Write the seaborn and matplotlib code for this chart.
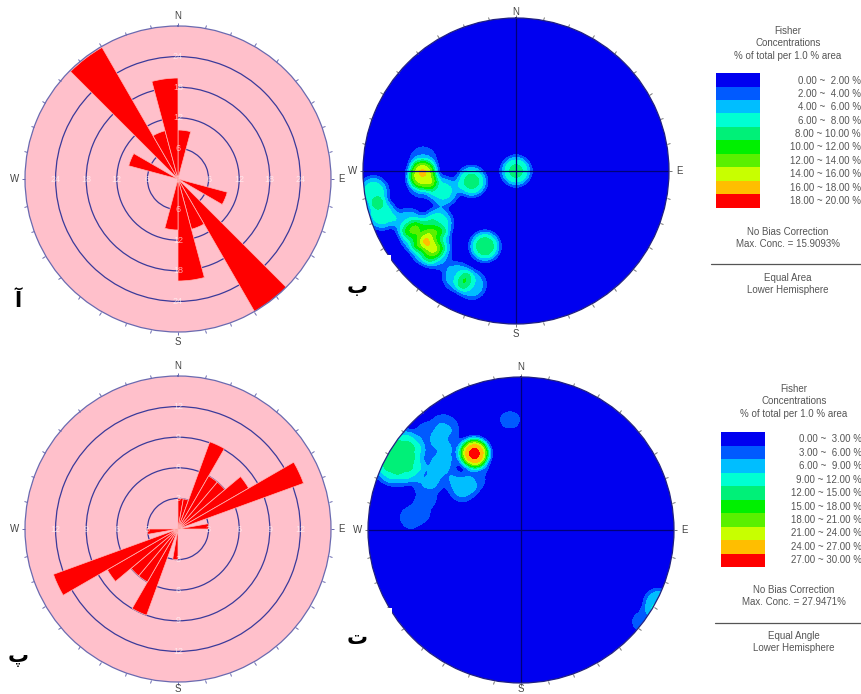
import numpy as np
import matplotlib
matplotlib.use("Agg")
import matplotlib.pyplot as plt
from matplotlib.colors import ListedColormap, BoundaryNorm
from matplotlib.patches import Circle, Rectangle
import seaborn as sns

W, H = 862, 694

# rose diagrams: bin start azimuth (deg) and value
rose_top_bins = [315, 330, 345, 0, 285, 105, 135, 150, 165, 180]
rose_top_vals = [29.8, 9.8, 19.8, 9.6, 10, 10, 30, 10.2, 20, 10]
rose_top_rings = [6, 12, 18, 24]

rose_bot_bins = [60, 20, 30, 40, 50, 0, 10, 80, 260, 240, 230, 220, 210, 200, 180]
rose_bot_vals = [13.1, 9.1, 6, 6, 8, 3, 3, 3, 3, 13, 8, 6, 6, 9, 3]
rose_bot_rings = [3, 6, 9, 12]

# stereonet poles: east, north (unit circle) and weight
net_top_x = [0, -0.61, -0.606, -0.617, -0.475, -0.29, -0.932, -0.878, -0.904,
             -0.66, -0.588, -0.704, -0.508, -0.519, -0.519, -0.203, -0.383, -0.29, -0.6]
net_top_y = [0, -0.024, 0.074, -0.089, -0.133, -0.068, -0.133, -0.285, -0.209,
             -0.427, -0.514, -0.34, -0.34, -0.46, -0.547, -0.492, -0.692, -0.743, -0.38]
net_top_w = [8.3, 12, 3.5, 3.5, 6.5, 8.5, 7, 7, 0.5,
             6.5, 6.5, 5.5, 7, 5, 4.5, 9, 5.5, 5.5, 2]

net_bot_x = [-0.305,
             -0.703, -0.913, -0.808, -0.808, -0.734, -0.882, -0.734, -0.882,
             -0.486, -0.519, -0.508,
             -0.475, -0.573, -0.649, -0.627, -0.612, -0.529, -0.257,
             -0.381, -0.072, -0.072,
             -0.693, -0.758, -0.627,
             0.898, 0.789]
net_bot_y = [0.501,
             0.475, 0.475, 0.58, 0.37, 0.549, 0.549, 0.401, 0.401,
             0.599, 0.501, 0.414,
             0.708, 0.654, 0.61, 0.338, 0.251, 0.353, 0.338,
             0.278, 0.769, 0.671,
             0.098, 0.055, 0.135,
             -0.479, -0.599]
net_bot_w = [27.4,
             5.4, 5.4, 5.4, 5.4, 5.4, 5.4, 5.4, 5.4,
             3.6, 4, 3.8,
             3, 2.8, 2.4, 3, 3.2, 2.2, 3,
             7, 2.3, 2.3,
             2.4, 2.2, 2.2,
             9, 3.5]

level_colors = ['#0000f0', '#005aff', '#00beff', '#00ffd2', '#00f078',
                '#00f000', '#5af000', '#c8ff00', '#ffbe00', '#ff0000']

legend_top = ['0.00 ~  2.00 %', '2.00 ~  4.00 %', '4.00 ~  6.00 %', '6.00 ~  8.00 %', '8.00 ~ 10.00 %',
              '10.00 ~ 12.00 %', '12.00 ~ 14.00 %', '14.00 ~ 16.00 %', '16.00 ~ 18.00 %', '18.00 ~ 20.00 %']
legend_bot = ['0.00 ~  3.00 %', '3.00 ~  6.00 %', '6.00 ~  9.00 %', '9.00 ~ 12.00 %', '12.00 ~ 15.00 %',
              '15.00 ~ 18.00 %', '18.00 ~ 21.00 %', '21.00 ~ 24.00 %', '24.00 ~ 27.00 %', '27.00 ~ 30.00 %']

sns.set_style("white")
plt.rcParams['font.family'] = ['Liberation Sans', 'DejaVu Sans']

fig = plt.figure(figsize=(W / 100, H / 100), dpi=100)
cmap = ListedColormap(level_colors)


def px_axes(x0, y0, x1, y1, **kw):
    return fig.add_axes([x0 / W, 1 - y1 / H, (x1 - x0) / W, (y1 - y0) / H], **kw)


def px_text(x, y, s, **kw):
    kw.setdefault('fontsize', 7)
    kw.setdefault('color', '#555555')
    kw.setdefault('ha', 'center')
    kw.setdefault('va', 'center')
    fig.text(x / W, 1 - y / H, s, **kw)


def polar_frame(ax, rmax, color, n_r=1.068, s_r=1.068):
    ax.set_theta_zero_location('N')
    ax.set_theta_direction(-1)
    ax.set_ylim(0, rmax)
    ax.set_xticks(np.radians(np.arange(0, 360, 10)))
    ax.set_xticklabels([])
    ax.tick_params(axis='x', bottom=False, top=True, direction='out', length=2.5, width=0.7, color=color)
    ax.spines['polar'].set_color(color)
    ax.spines['polar'].set_linewidth(0.9)
    ax.set_xlabel('')
    ax.set_ylabel('')
    for lab, az, rr in zip('NESW', [0, 90, 180, 270], [n_r, 1.068, s_r, 1.068]):
        ax.text(np.radians(az), rmax * rr, lab, ha='center', va='center', fontsize=7,
                color='#444444', clip_on=False)


def rose(cx, cy, bins, vals, rings, step, s_r=1.068):
    ax = px_axes(cx - 153, cy - 153, cx + 153, cy + 153, projection='polar')
    ax.set_facecolor('#ffc0cb')
    theta = np.radians(np.array(bins) + step / 2)
    sns.barplot(x=theta, y=vals, native_scale=True, width=1, color='#ff0000', saturation=1,
                edgecolor='#ffb8b8', linewidth=0.5, errorbar=None, ax=ax)
    rmax = rings[-1] + rings[0]
    polar_frame(ax, rmax, '#6a6ab0', s_r=s_r)
    ax.set_axisbelow(True)
    ax.set_yticks(rings)
    ax.set_yticklabels([])
    ax.tick_params(axis='y', length=0)
    ax.yaxis.grid(True, color='#3a3a9a', linewidth=0.9)
    ax.xaxis.grid(False)
    for r in rings:
        for az in [0, 90, 180, 270]:
            ax.text(np.radians(az), r, str(r), color='white', fontsize=6.5, alpha=0.65,
                    ha='center', va='center', zorder=6)
    return ax


def stereonet(cx, cy, px, py, pw, top_level, s=0.1, n=306, n_r=1.068, s_r=1.068):
    ax = px_axes(cx - 153, cy - 153, cx + 153, cy + 153)
    g = (np.arange(n) + 0.5) / n * 2 - 1
    xx, yy = np.meshgrid(g, -g)
    field = np.zeros_like(xx)
    for x, y, w in zip(px, py, pw):
        d = np.hypot(xx - x, yy - y)
        field += w * np.exp(-(d / s) ** 4)
    levels = np.linspace(0, top_level, 11)
    sns.heatmap(field, cmap=cmap, norm=BoundaryNorm(levels, 10, clip=True), cbar=False,
                xticklabels=False, yticklabels=False, ax=ax)
    ax.collections[0].set_clip_path(Circle((n / 2, n / 2), n / 2, transform=ax.transData))
    ax.axhline(n / 2, color='#000078', linewidth=0.9)
    ax.axvline(n / 2, color='#000078', linewidth=0.9)
    ax.axis('off')
    frame = px_axes(cx - 153, cy - 153, cx + 153, cy + 153, projection='polar')
    frame.patch.set_alpha(0)
    polar_frame(frame, 1, '#777777', n_r=n_r, s_r=s_r)
    frame.set_yticks([])
    frame.grid(False)
    frame.spines['polar'].set_color('#202080')


def legend(x0, y0, labels, cx, ys, lines, rule_x, label_x):
    ax = px_axes(x0, y0, x0 + 44, y0 + 135)
    sns.heatmap(np.arange(10).reshape(-1, 1), cmap=cmap, cbar=False, xticklabels=False,
                yticklabels=False, ax=ax)
    for i, lab in enumerate(labels):
        px_text(label_x, y0 + 7.5 + i * 13.4, lab, ha='right')
    for y, s in zip(ys, lines):
        px_text(cx, y, s)
    fig.add_artist(plt.Line2D([rule_x / W, 1], [1 - ys[5] / H] * 2, color='#555555', linewidth=0.9))


rose(178, 179, rose_top_bins, rose_top_vals, rose_top_rings, 15)
rose(178, 529, rose_bot_bins, rose_bot_vals, rose_bot_rings, 10, s_r=1.045)
stereonet(516, 171, net_top_x, net_top_y, net_top_w, 20, n_r=1.04)
stereonet(521, 530, net_bot_x, net_bot_y, net_bot_w, 30, s_r=1.04)

legend(716, 73, legend_top, 788, [31, 43, 56, 232, 244, 264, 278, 290],
       ['Fisher', 'Concentrations', '% of total per 1.0 % area', 'No Bias Correction',
        'Max. Conc. = 15.9093%', '', 'Equal Area', 'Lower Hemisphere'], 711, 861)
legend(721, 432, legend_bot, 794, [389, 401, 414, 590, 602, 623, 636, 648],
       ['Fisher', 'Concentrations', '% of total per 1.0 % area', 'No Bias Correction',
        'Max. Conc. = 27.9471%', '', 'Equal Angle', 'Lower Hemisphere'], 715, 862)

# white patches behind the panel letters
for x, y, w, h in [(345, 255, 46, 48), (345, 608, 47, 48)]:
    fig.add_artist(Rectangle((x / W, 1 - (y + h) / H), w / W, h / H, transform=fig.transFigure,
                             facecolor='white', edgecolor='none', zorder=5))

for x, y, s in [(18, 301, 'آ'), (357, 287, 'ب'), (18, 657, 'پ'), (357, 638, 'ت')]:
    px_text(x, y, s, fontsize=15, color='black', family='DejaVu Sans', fontweight='bold', zorder=6)

fig.savefig('out.png', dpi=100)
plt.close(fig)
